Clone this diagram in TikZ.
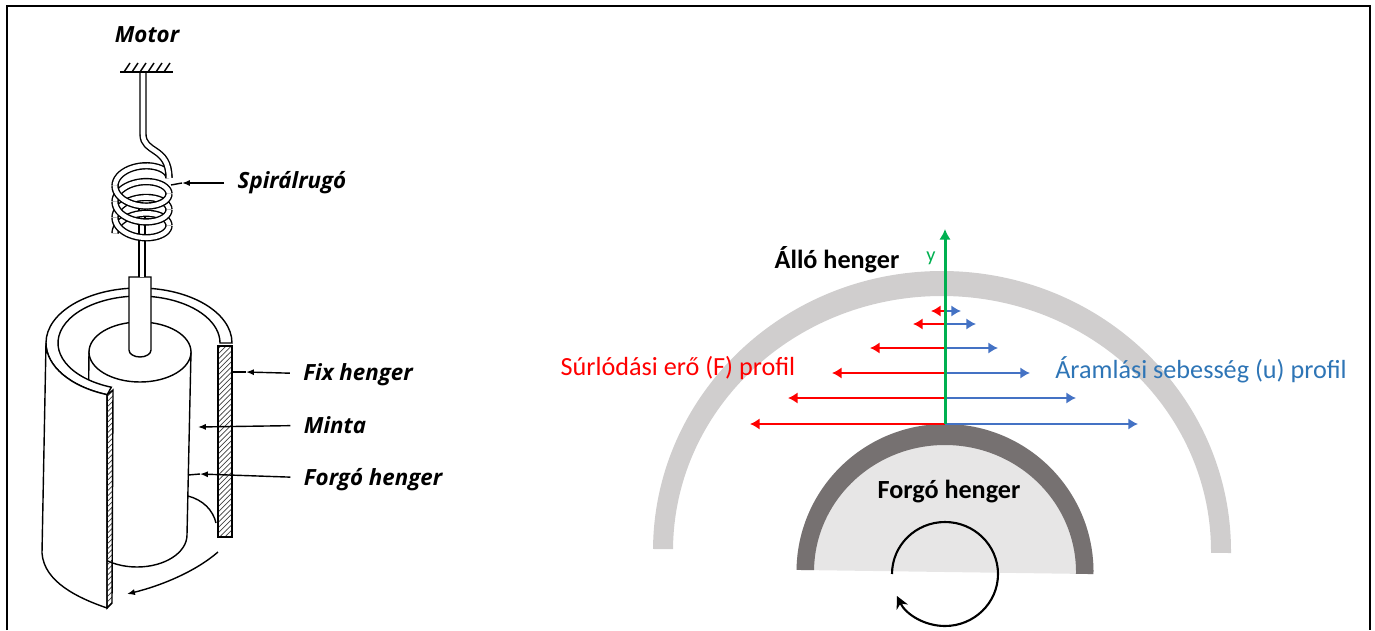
\documentclass[tikz,border=0pt]{standalone}
\usepackage{fontspec}
\usepackage{tikz}
\usetikzlibrary{patterns, arrows.meta}
\setmainfont{Carlito}
\newfontfamily\sketchfont{Open Sans}

\definecolor{fixgray}{HTML}{D0CECE}
\definecolor{rotgray}{HTML}{767171}
\definecolor{rotfill}{HTML}{E7E6E6}
\definecolor{axisgreen}{HTML}{00B050}
\definecolor{flowblue}{HTML}{4472C4}
\definecolor{flowtext}{HTML}{2E75B6}

\tikzset{
    sketchline/.style={line width=0.8pt, fill=white},
    wire/.style={line width=0.8pt, double=white, double distance=2.6pt},
    tag/.style={font=\sketchfont\bfseries\itshape\fontsize{12.7}{14}\selectfont, inner xsep=7.5pt, inner ysep=0pt},
    leader/.style={line width=0.8pt},
    leadertip/.style={line width=0.8pt, -{Latex[length=4.5pt, width=3.5pt]}},
    hatched/.style={line width=0.8pt, pattern=north east lines, pattern color=black!75},
    redarrow/.style={red, line width=1.6pt, -{Latex[length=5.5pt, width=6.5pt]}},
    bluearrow/.style={flowblue, line width=1.4pt, -{Latex[length=5.5pt, width=6.5pt]}},
    heading/.style={font=\bfseries\fontsize{14.9}{17}\selectfont, inner sep=0pt},
    profile/.style={font=\fontsize{14.9}{17}\selectfont, inner sep=0pt}
}

\newcommand{\coilhalf}[2]{\draw[wire] plot[domain=#1:#2, samples=24] ({142+27*cos(\x)}, {452+16*sin(\x)-\x*0.044});}

\begin{document}
\begin{tikzpicture}[x=0.02cm, y=0.02cm]
    \useasboundingbox (0, 0) rectangle (1375, 630);
    \draw[line width=0.7pt] (7, 0) -- (7, 624) -- (1370, 624) -- (1370, 0);

    % Inner cylinder
    \filldraw[sketchline] (191, 278) -- (187, 95) arc[start angle=0, end angle=-180, x radius=50, y radius=32] -- (89, 278) -- cycle;
    \filldraw[sketchline] (140, 278) ellipse [x radius=51, y radius=30];
    \draw[line width=0.8pt] (188, 134) .. controls (203, 130) and (213, 120) .. (216, 107);

    % Fixed shell, ring and cut faces
    \filldraw[sketchline] (232, 287) arc[start angle=0, end angle=250, x radius=93, y radius=55] -- (111.3, 242.8) arc[start angle=250, end angle=0, x radius=81, y radius=47] -- cycle;
    \filldraw[hatched] (218, 284) rectangle (232, 93);

    % Shaft
    \filldraw[sketchline] (129, 353) -- (129, 280) arc[start angle=180, end angle=360, x radius=11, y radius=7] -- (151, 353) -- cycle;

    % Front wall of the shell
    \filldraw[sketchline] (46, 287) arc[start angle=180, end angle=250, x radius=93, y radius=55] -- (107, 22) .. controls (78, 32) and (44, 48) .. (42, 77) -- cycle;
    \filldraw[hatched] (107, 235) -- (113, 240) -- (112, 27) -- (107, 22) -- cycle;

    % Spring and rod
    \draw[wire] (142, 353) -- (142, 425);
    \coilhalf{1080}{1260}
    \coilhalf{720}{900}
    \coilhalf{360}{540}
    \coilhalf{0}{180}
    \coilhalf{900}{1080}
    \coilhalf{540}{720}
    \coilhalf{180}{360}
    \draw[wire] (143, 558) -- (143, 496) .. controls (143, 476) and (169, 484) .. (169, 452);

    % Support
    \draw[line width=1pt] (120, 558) -- (173, 558);
    \draw[line width=0.8pt] (124, 558) -- (130, 567) (132, 558) -- (138, 567) (140, 558) -- (146, 567) (148, 558) -- (154, 567) (156, 558) -- (162, 567) (164, 558) -- (170, 567);

    % Labels of the sketch
    \node[tag] (motor) at (147, 595) {Motor};
    \node[tag] (spring) at (292, 447) {Spirálrugó};
    \node[tag] (fix) at (358, 255) {Fix henger};
    \node[tag] (sample) at (335, 205) {Minta};
    \node[tag] (rotor) at (373, 150) {Forgó henger};

    \coordinate (springtip) at (182, 447);
    \coordinate (springend) at (171, 445);
    \coordinate (fixtip) at (246, 258);
    \coordinate (fixend) at (232, 258);
    \coordinate (sampleend) at (198, 203);
    \coordinate (rotortip) at (200, 156);
    \coordinate (rotorend) at (188, 155);
    \coordinate (turnstart) at (218, 78);
    \coordinate (turnend) at (127, 36);

    \draw[leadertip] (spring) -- (springtip);
    \draw[leader] (springtip) -- (springend);
    \draw[leadertip] (fix) -- (fixtip);
    \draw[leader] (fixtip) -- (fixend);
    \draw[leadertip] (sample) -- (sampleend);
    \draw[leadertip] (rotor) -- (rotortip);
    \draw[leader] (rotortip) -- (rotorend);
    \draw[leadertip] (turnstart) .. controls (195, 58) and (160, 44) .. (turnend);

    % Outer cylinder
    \fill[fixgray, rotate around={-0.4:(942, 79)}] (653, 79) arc[start angle=180, end angle=0, x radius=289, y radius=280] -- (1211, 79) arc[start angle=0, end angle=180, x radius=269, y radius=255] -- cycle;

    % Rotating cylinder
    \fill[rotfill, rotate around={-0.8:(945, 58)}] (796.5, 58) arc[start angle=180, end angle=0, x radius=148.5, y radius=148] -- cycle;
    \fill[rotgray, rotate around={-0.8:(945, 58)}] (796.5, 58) arc[start angle=180, end angle=0, x radius=148.5, y radius=148] -- (1076, 58) arc[start angle=0, end angle=180, x radius=131, y radius=127] -- cycle;

    % Rotation
    \draw[line width=1.2pt, -{Stealth[length=7pt, width=7pt]}] (892, 56) arc[start angle=180, end angle=-155, x radius=53, y radius=52];

    % Profile rows
    \coordinate (p1) at (945, 319);
    \coordinate (p2) at (945, 306);
    \coordinate (p3) at (945, 282);
    \coordinate (p4) at (945, 257);
    \coordinate (p5) at (945, 232);
    \coordinate (p6) at (945, 206);
    \coordinate (f1) at (931, 319);
    \coordinate (f2) at (913, 306);
    \coordinate (f3) at (870, 282);
    \coordinate (f4) at (832, 257);
    \coordinate (f5) at (788, 232);
    \coordinate (f6) at (750, 206);
    \coordinate (u1) at (961, 319);
    \coordinate (u2) at (976, 306);
    \coordinate (u3) at (998, 282);
    \coordinate (u4) at (1030, 257);
    \coordinate (u5) at (1076, 232);
    \coordinate (u6) at (1138, 206);
    \coordinate (ytop) at (945, 401);

    \draw[bluearrow] (p1) -- (u1);
    \draw[bluearrow] (p2) -- (u2);
    \draw[bluearrow] (p3) -- (u3);
    \draw[bluearrow] (p4) -- (u4);
    \draw[bluearrow] (p5) -- (u5);
    \draw[bluearrow] (p6) -- (u6);
    \draw[redarrow] (p1) -- (f1);
    \draw[redarrow] (p2) -- (f2);
    \draw[redarrow] (p3) -- (f3);
    \draw[redarrow] (p4) -- (f4);
    \draw[redarrow] (p5) -- (f5);
    \draw[redarrow] (p6) -- (f6);
    \draw[axisgreen, line width=1.7pt, -{Latex[length=6pt, width=6.5pt]}] (p6) -- (ytop);

    % Labels of the profile
    \node[heading] (fixed) at (837, 370) {Álló henger};
    \node[heading] (rotating) at (949, 138) {Forgó henger};
    \node[axisgreen, font=\fontsize{11.5}{13}\selectfont, inner sep=0pt] (ylabel) at (931, 372) {y};
    \node[profile, red] (friction) at (678, 262) {Súrlódási erő (F) profil};
    \node[profile, flowtext] (flow) at (1201, 260) {Áramlási sebesség (u) profil};
\end{tikzpicture}
\end{document}
